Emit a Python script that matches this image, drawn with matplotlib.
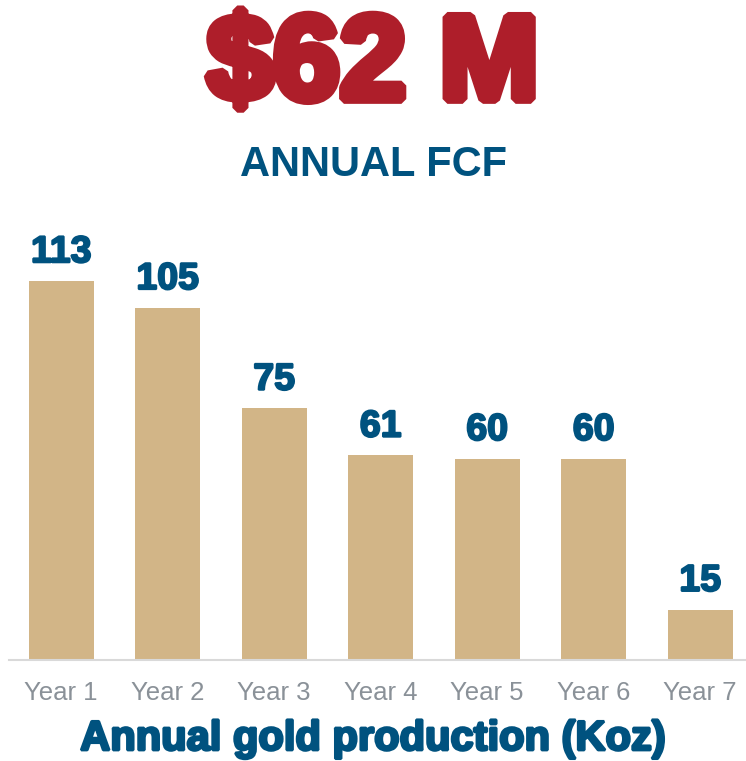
import matplotlib.pyplot as plt
import matplotlib.patheffects as pe

years = ["Year 1", "Year 2", "Year 3", "Year 4", "Year 5", "Year 6", "Year 7"]
production = [113, 105, 75, 61, 60, 60, 15]
headline = "$62 M"
subtitle = "ANNUAL FCF"

red = "#AE1E2A"
blue = "#00527F"
tan = "#D2B587"
gray = "#8A9198"

plt.rcParams['font.family'] = ['Liberation Sans', 'DejaVu Sans']

fig = plt.figure(figsize=(7.46, 7.61), dpi=100)
ax = fig.add_axes([9 / 746, 101 / 761, 737 / 746, 460 / 761])

x = range(len(years))
bars = ax.bar(x, production, width=0.61, color=tan)

for xi, v in zip(x, production):
    ax.annotate(str(v), (xi, v), xytext=(0, 13.5), textcoords='offset points',
                ha='center', va='baseline', fontsize=27, fontweight='bold', color=blue,
                path_effects=[pe.withStroke(linewidth=1.5, foreground=blue, joinstyle='bevel')])

ax.set_xlim(-0.49, 6.43)
ax.set_ylim(0, 460 / 3.354)
ax.set_xticks(list(x))
ax.set_xticklabels(years, fontsize=18.5, color=gray)
ax.tick_params(axis='x', length=0, pad=15)
ax.set_yticks([])
for s in ['top', 'right', 'left']:
    ax.spines[s].set_visible(False)
ax.spines['bottom'].set_color('#D9D9D9')
ax.spines['bottom'].set_linewidth(1.5)

# headline with a thick stroke so it looks like a black-weight face
fig.text(0.5, 1 - 99 / 761, headline, ha='center', va='baseline', fontsize=86,
         fontweight='bold', color=red,
         path_effects=[pe.withStroke(linewidth=7, foreground=red, joinstyle='bevel')])
fig.text(0.5, 1 - 165 / 761, subtitle, ha='center', va='center', fontsize=30,
         fontweight='bold', color=blue)
fig.text(0.5, 1 - 739 / 761, "Annual gold production (Koz)", ha='center', va='center',
         fontsize=30, fontweight='bold', color=blue,
         path_effects=[pe.withStroke(linewidth=2, foreground=blue, joinstyle='bevel')])

fig.savefig("out.png", dpi=100)
